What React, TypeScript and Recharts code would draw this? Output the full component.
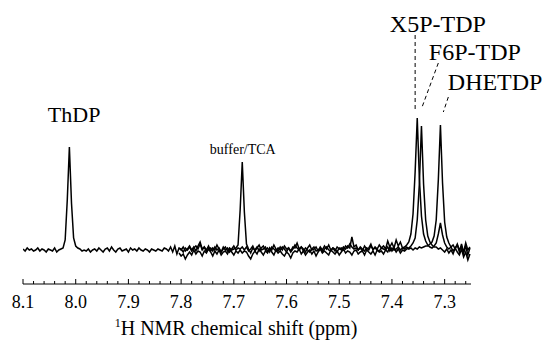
import { LineChart, Line, XAxis, YAxis, ReferenceLine, ReferenceDot } from "recharts";

// chemical-shift grid: first point and spacing (ppm)
const SHIFT_START = 8.1;
const SHIFT_STEP = 0.004;

// trace A (ThDP / buffer / X5P-TDP sample), starts at grid index 0
const traceA = [
  1, -1, 2, 0, 1, -1, 0, 2, -1, 1,
  0, -2, 1, 0, -1, 2, -2, 0, 1, 2,
  10, 50, 103, 47, 12, 4, 2, 1, -1, 0,
  -1, 1, -2, 0, 1, -1, 2, 0, -2, 1,
  2, -1, 3, 0, -2, 1, 2, -1, 0, 1,
  -2, 2, 0, 1, -1, 2, 0, -1, 1, 0,
  -2, 1, 0, -1, 1, 0, -1, 2, 1, -1,
  3, -2, 4, -4, 2, 1, -2, 2, 0, 3,
  -1, 2, 4, 1, 6, 0, 3, -2, 1, 2,
  -1, 3, 0, 2, -2, 1, 3, -1, 2, 0,
  1, 2, 5, 40, 88, 38, 6, 1, -3, 2,
  0, 3, -1, 2, 4, 0, 2, -2, 3, 1,
  -1, 2, 0, 3, 1, -2, 2, -1, 3, 2,
  7, 1, 3, -1, 2, 0, -2, 1, 3, -1,
  0, 2, -2, 1, 3, 0, -1, 2, 1, -2,
  2, 0, 3, 1, 4, 2, 13, 3, 5, 0,
  2, -1, 4, 1, 2, 6, 0, 3, 1, 5,
  2, 4, 1, 9, 3, 7, 2, 10, 4, 8,
  2, 3, 5, 8, 16, 36, 78, 132, 72, 34,
  16, 9, 5, 3, 2, 4, 7, 16, 27, 15,
  7, 3, 1, 3, -1, 2, 5, -2, 6, -3,
  4, -5, 2,
];

// traces B (F6P-TDP) and C (DHETDP) start at grid index 74
const TRACE_BC_START = 74;
const traceB = [
  -3, -6, -4, -9, -5, -2,
  -5, 0, -4, -1, -2, -6, -1, -3, 1, -2,
  -6, -1, -4, 0, -5, -2, -1, -4, 1, -2,
  -5, -1, -3, 0, -3, -1, -2, -6, -9, -4,
  -1, -4, 1, -2, -5, -1, -3, 2, -2, -5,
  0, -3, -1, -4, -6, -2, -4, -8, -3, -1,
  -2, 1, -4, -1, -5, -2, 0, -4, -1, -6,
  -2, 1, -3, -1, -3, -5, 0, -2, -4, -1,
  -5, -2, 1, -3, -1, -2, -5, -1, 0, -4,
  -2, -1, -5, 0, -2, -4, -1, -5, 0, -2,
  -1, -4, 0, -2, 3, -1, 2, -2, 1, -3,
  0, -1, 1, 2, 4, 7, 12, 30, 66, 124,
  66, 30, 14, 8, 5, 3, 3, 1, 2, 0,
  -2, 1, -3, 0, -4, 2, -2, -5, 1, -7,
  -2, -10, -4,
];
const traceC = [
  2, 0, 3, -1, 1, 4,
  0, 3, -1, 4, 8, 1, 3, 0, 4, -1,
  2, 0, 5, 1, -2, 3, 0, 2, -2, 1,
  4, 0, 2, 1, 3, 0, 3, -1, 1, 4,
  -1, 2, 5, 0, 1, 3, -2, 2, 0, 5,
  1, -1, 3, 0, 4, 1, 2, -2, 1, 5,
  2, 0, 3, 1, -2, 2, 5, 0, 1, 3,
  -1, 3, 0, 4, 1, 5, 0, 2, -1, 3,
  1, 2, 0, 4, 2, 6, 3, 1, 2, 0,
  3, 1, -1, 2, 0, 4, 1, 2, 0, -1,
  2, 1, 0, 3, -1, 2, 0, 1, 3, 0,
  2, 1, 3, 1, 2, 0, 2, 1, 3, 2,
  3, 4, 4, 6, 8, 14, 30, 70, 125, 67,
  28, 13, 7, 3, 5, 1, 6, 0, 4, -2,
  7, 0, 3,
];

const axisTicks = [
  8.1, 8.08, 8.06, 8.04, 8.02, 8.0, 7.98, 7.96, 7.94, 7.92,
  7.9, 7.88, 7.86, 7.84, 7.82, 7.8, 7.78, 7.76, 7.74, 7.72,
  7.7, 7.68, 7.66, 7.64, 7.62, 7.6, 7.58, 7.56, 7.54, 7.52,
  7.5, 7.48, 7.46, 7.44, 7.42, 7.4, 7.38, 7.36, 7.34, 7.32,
  7.3, 7.28, 7.26,
];

// peak labels: text, ppm, intensity, font size, anchor
const peakLabels = [
  { text: "ThDP", ppm: 8.003, y: 128, size: 22, anchor: "middle" },
  { text: "buffer/TCA", ppm: 7.683, y: 96, size: 14, anchor: "middle" },
  { text: "X5P-TDP", ppm: 7.404, y: 218, size: 24, anchor: "start" },
  { text: "F6P-TDP", ppm: 7.33, y: 190, size: 24, anchor: "start" },
  { text: "DHETDP", ppm: 7.294, y: 160, size: 24, anchor: "start" },
];

// dashed leader lines from labels to peaks
const leaders = [
  [{ x: 7.356, y: 215 }, { x: 7.356, y: 140 }],
  [{ x: 7.312, y: 187 }, { x: 7.3435, y: 142 }],
  [{ x: 7.293, y: 153 }, { x: 7.3025, y: 138 }],
];

const serif = { fontFamily: '"Liberation Serif", "DejaVu Serif", serif' };

function toPoints(values: number[], startIndex: number) {
  return values.map((v, k) => ({
    ppm: Math.round((SHIFT_START - SHIFT_STEP * (startIndex + k)) * 1000) / 1000,
    v,
  }));
}

const dataA = toPoints(traceA, 0);
const dataB = toPoints(traceB, TRACE_BC_START);
const dataC = toPoints(traceC, TRACE_BC_START);

function ShiftTick({ x, y, payload }: any) {
  const v = payload.value as number;
  const major = Math.abs(v * 10 - Math.round(v * 10)) < 1e-6;
  return (
    <g>
      <line x1={x} x2={x} y1={y} y2={y - (major ? 5 : 3)} stroke="#000" strokeWidth={1} />
      {major && (
        <text x={x} y={y + 24} textAnchor="middle" fontSize={18} style={serif} fill="#000">
          {v.toFixed(1)}
        </text>
      )}
    </g>
  );
}

function AxisTitle({ viewBox }: any) {
  if (!viewBox) return null;
  return (
    <text
      x={viewBox.x + 213}
      y={viewBox.y + 51}
      textAnchor="middle"
      fontSize={20}
      style={serif}
      fill="#000"
    >
      <tspan fontSize={12} dy={-8}>1</tspan>
      <tspan dy={8}>H NMR chemical shift (ppm)</tspan>
    </text>
  );
}

export default function App() {
  return (
    <div style={{ position: "absolute", left: 0, top: 0, background: "#fff" }}>
      <LineChart width={546} height={350} margin={{ top: 10, right: 75, bottom: 36, left: 23 }}>
        <XAxis
          dataKey="ppm"
          type="number"
          domain={[7.25, 8.1]}
          reversed
          allowDataOverflow
          ticks={axisTicks}
          interval={0}
          tick={<ShiftTick />}
          tickLine={false}
          tickSize={0}
          tickMargin={0}
          height={30}
          axisLine={{ stroke: "#000", strokeWidth: 1 }}
          label={<AxisTitle />}
        />
        <YAxis hide type="number" domain={[-34, 240]} allowDataOverflow />
        {[dataB, dataC, dataA].map((d, i) => (
          <Line
            key={i}
            data={d}
            dataKey="v"
            type="linear"
            stroke="#000"
            strokeWidth={1.5}
            dot={false}
            isAnimationActive={false}
          />
        ))}
        {leaders.map((seg, i) => (
          <ReferenceLine
            key={`l${i}`}
            segment={seg}
            stroke="#000"
            strokeWidth={1}
            strokeDasharray="4 3"
            ifOverflow="visible"
          />
        ))}
        {peakLabels.map((l) => (
          <ReferenceDot
            key={l.text}
            x={l.ppm}
            y={l.y}
            r={0}
            ifOverflow="visible"
            shape={(p: any) => (
              <text
                x={p.cx}
                y={p.cy}
                textAnchor={l.anchor}
                fontSize={l.size}
                style={serif}
                fill="#000"
              >
                {l.text}
              </text>
            )}
          />
        ))}
      </LineChart>
    </div>
  );
}
